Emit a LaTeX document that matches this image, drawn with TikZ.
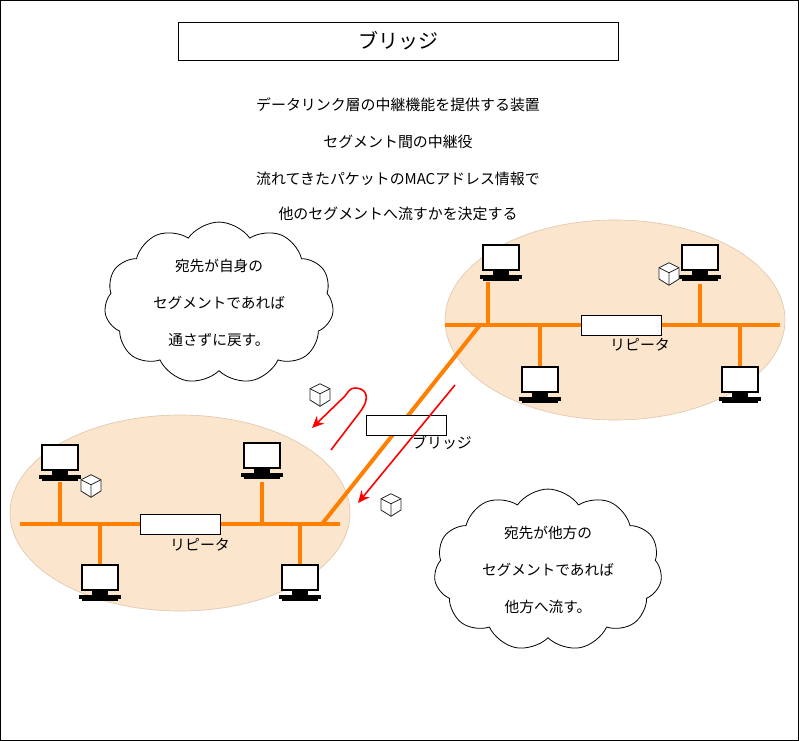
\documentclass[tikz,border=0pt]{standalone}
\usepackage{fontspec}
\setmainfont{Noto Sans CJK JP}
\usetikzlibrary{shapes.symbols,arrows.meta}
\definecolor{seg}{HTML}{FCE5CD}
\definecolor{segd}{HTML}{E0C8B0}
\definecolor{bus}{HTML}{FF8000}
\tikzset{
  txt/.style={font=\fontsize{11.2}{13}\selectfont},
  seg/.style={fill=seg,draw=segd,line width=0.5pt},
  bus/.style={draw=bus,line width=3pt},
  box/.style={draw=black,fill=white,line width=0.6pt},
  cl/.style={cloud,cloud puffs=11,cloud puff arc=110,aspect=1.6,draw,fill=white,line width=0.6pt,align=center,font=\fontsize{11}{27.5}\selectfont},
  red/.style={draw=red,line width=1.2pt,-{Stealth[length=9pt,width=8pt]}},
  pics/pc/.style={code={
    \draw[black,line width=1.6pt,fill=white] (-18,-21) rectangle (18,4);
    \fill[black] (-8,4) rectangle (8,9);
    \fill[black] (-21,9) rectangle (21,13);
    \fill[black] (-18,13) rectangle (18,15);
  }},
  pics/cube/.style={code={
    \begin{scope}[scale=1.25]
    \draw[gray!30!black,line width=0.6pt,fill=white] (0,-9)--(8,-5)--(8,4)--(0,9)--(-8,4)--(-8,-5)--cycle;
    \draw[gray!30!black,line width=0.6pt] (-8,-5)--(0,-1)--(8,-5) (0,-1)--(0,9);
    \end{scope}
  }}
}
\begin{document}
\begin{tikzpicture}[x=0.75pt,y=-0.75pt]
\useasboundingbox (0,0) rectangle (799,741);
\draw[line width=0.6pt] (0.5,0.5) rectangle (798.5,740.5);
\node[box,minimum width=330pt,minimum height=28.5pt,font=\fontsize{15}{17}\selectfont] (title) at (398,41) {ブリッジ};
\node[txt] (t1) at (398,105) {データリンク層の中継機能を提供する装置};
\node[txt] (t2) at (398,142) {セグメント間の中継役};
\node[txt] (t3) at (398,179) {流れてきたパケットのMACアドレス情報で};
\node[txt] (t4) at (398,214) {他のセグメントへ流すかを決定する};
% segments
\path[seg] (615,320) ellipse (170 and 100);
\path[seg] (180,513) ellipse (170 and 98);
% right bus
\coordinate (r1) at (445,325); \coordinate (r2) at (780,325);
\draw[bus] (r1)--(r2);
\draw[bus] (488,325)--(488,282);
\draw[bus] (700,325)--(700,284);
\draw[bus] (540,325)--(540,367);
\draw[bus] (740,325)--(740,367);
\pic at (501,266) {pc}; \pic at (700,266) {pc};
\pic at (540,388) {pc}; \pic at (740,388) {pc};
\node[box,minimum width=60pt,minimum height=15pt] (rep1) at (621,325) {};
\node[txt] (rl1) at (640,345) {リピータ};
% left bus
\coordinate (l1) at (20,524); \coordinate (l2) at (340,524);
\draw[bus] (l1)--(l2);
\draw[bus] (60,524)--(60,482);
\draw[bus] (262,524)--(262,482);
\draw[bus] (100,524)--(100,566);
\draw[bus] (300,524)--(300,566);
\pic at (60,466) {pc}; \pic at (262,464) {pc};
\pic at (100,586) {pc}; \pic at (300,586) {pc};
\node[box,minimum width=60pt,minimum height=15pt] (rep2) at (180,524) {};
\node[txt] (rl2) at (200,545) {リピータ};
% bridge
\coordinate (b1) at (322,524); \coordinate (b2) at (480,325);
\draw[bus] (b1)--(b2);
\node[box,minimum width=60pt,minimum height=15pt] (br) at (406,425) {};
\node[txt] (brl) at (442,443) {ブリッジ};
% red arrows
\coordinate (a1) at (455,385); \coordinate (a2) at (358,503);
\draw[red] (a1)--(a2);
\coordinate (u1) at (331,450); \coordinate (u2) at (312,428);
\draw[red] (u1)--(360,412) .. controls (372,396) and (365,388) .. (355,388) .. controls (350,388) and (348,392) .. (345,396) -- (u2);
% cubes
\pic at (320,395) {cube}; \pic at (391,505) {cube};
\pic at (91,486) {cube}; \pic at (669,274) {cube};
% clouds
\node[cl,minimum width=172pt,minimum height=106pt] (c1) at (219,303) {宛先が自身の\\セグメントであれば\\通さずに戻す。};
\node[cl,minimum width=162pt,minimum height=112pt] (c2) at (548,570) {宛先が他方の\\セグメントであれば\\他方へ流す。};
\end{tikzpicture}
\end{document}
